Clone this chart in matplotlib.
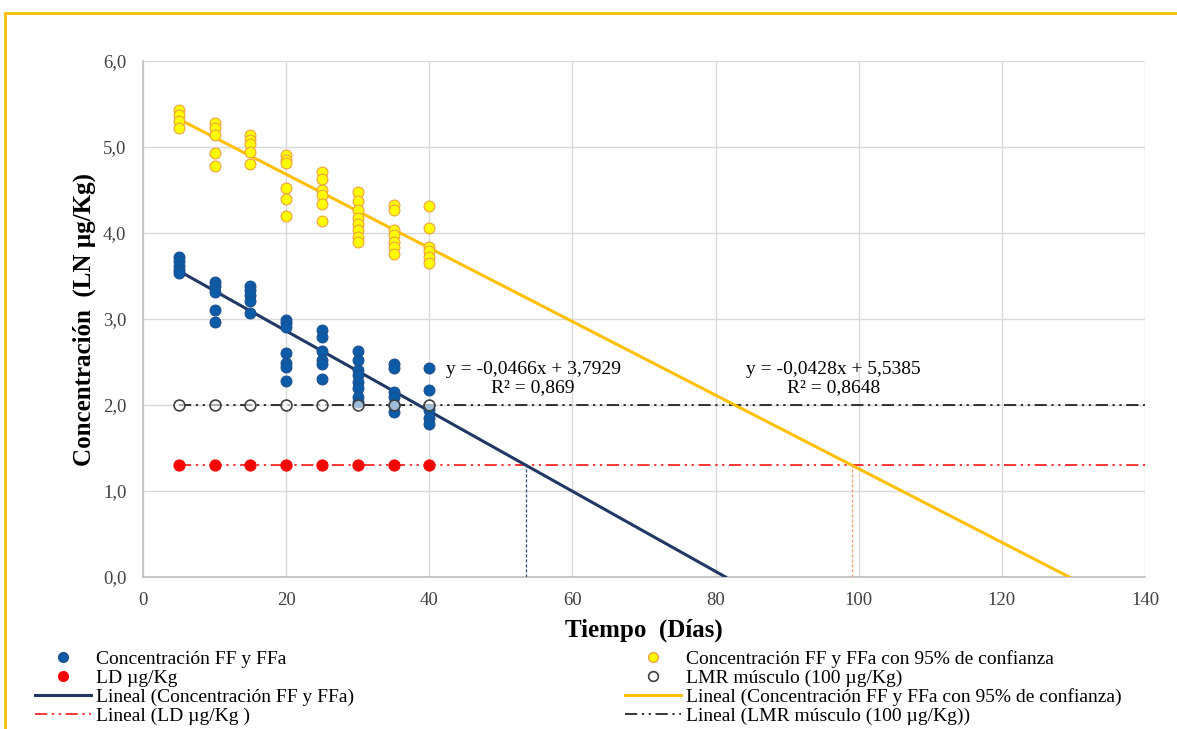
import matplotlib
matplotlib.use("Agg")
import matplotlib.pyplot as plt
import numpy as np
from matplotlib.patches import Rectangle
from matplotlib.lines import Line2D
from matplotlib.ticker import FuncFormatter, MultipleLocator

plt.rcParams['font.family'] = ['Liberation Serif', 'DejaVu Serif']

# ---- data ----
days = [5, 10, 15, 20, 25, 30, 35, 40]
conc_ff = [
    [3.72, 3.67, 3.62, 3.57, 3.53],
    [3.43, 3.38, 3.31, 3.10, 2.96],
    [3.38, 3.34, 3.28, 3.21, 3.07],
    [2.99, 2.95, 2.91, 2.60, 2.49, 2.44, 2.28],
    [2.87, 2.79, 2.63, 2.52, 2.48, 2.30],
    [2.63, 2.52, 2.41, 2.35, 2.27, 2.20, 2.09, 2.04],
    [2.48, 2.43, 2.15, 2.09, 2.00, 1.92],
    [2.43, 2.18, 1.94, 1.85, 1.78],
]
conc_95 = [
    [5.43, 5.37, 5.30, 5.22],
    [5.28, 5.22, 5.14, 4.93, 4.78],
    [5.14, 5.08, 5.04, 4.94, 4.80],
    [4.91, 4.85, 4.81, 4.52, 4.40, 4.20],
    [4.71, 4.63, 4.50, 4.44, 4.34, 4.14],
    [4.48, 4.37, 4.27, 4.17, 4.11, 4.03, 3.95, 3.89],
    [4.33, 4.27, 4.03, 3.98, 3.90, 3.84, 3.76],
    [4.31, 4.06, 3.84, 3.79, 3.72, 3.65],
]
ld_value = 1.3     # LD (LN ug/Kg)
lmr_value = 2.0    # LMR musculo (LN ug/Kg)
fit_ff = (-0.0466, 3.7929, 0.869)
fit_95 = (-0.0428, 5.5385, 0.8648)
x_max = 140

# ---- figure ----
fig = plt.figure(figsize=(11.77, 7.29), dpi=100)
ax = fig.add_axes([143/1177, 1-577/729, (1145-143)/1177, (577-61)/729])

blue_fill, blue_edge = '#0b5ca8', '#1c4f8f'
yel_fill, yel_edge = '#ffff00', '#f0a040'
navy = '#1f3864'
gold = '#ffc000'

ms = 7.8
for d, vals in zip(days, conc_ff):
    ax.plot([d]*len(vals), vals, 'o', ms=ms, mfc=blue_fill, mec=blue_edge, mew=0.8, zorder=4, ls='none')
for d, vals in zip(days, conc_95):
    ax.plot([d]*len(vals), vals, 'o', ms=ms, mfc=yel_fill, mec=yel_edge, mew=0.8, zorder=4, ls='none')

# LD and LMR points
ax.plot(days, [ld_value]*len(days), 'o', ms=ms, mfc='#ff0000', mec='#ff0000', zorder=5, ls='none')
ax.plot(days, [lmr_value]*len(days), 'o', ms=ms, mfc=(1, 1, 1, 0.6), mec='#404040', mew=1.2, zorder=5, ls='none')

# Horizontal trend lines
ddash = (8, 3, 1.5, 3, 1.5, 3)
ax.plot([days[0], x_max], [ld_value, ld_value], color='#ff0000', lw=1.1, dashes=ddash, zorder=3)
ax.plot([days[0], x_max], [lmr_value, lmr_value], color='#000000', lw=1.1, dashes=ddash, zorder=3)

# Linear trend lines (forecast forward to y=0)
m1, b1, r1 = fit_ff
m2, b2, r2 = fit_95
x1 = np.array([days[0], -b1/m1])
x2 = np.array([days[0], -b2/m2])
ax.plot(x1, m1*x1 + b1, color=navy, lw=2.2, zorder=3)
ax.plot(x2, m2*x2 + b2, color=gold, lw=2.2, zorder=3)

# Vertical drop lines at LD intersection
xi1 = (b1 - ld_value) / -m1
xi2 = (b2 - ld_value) / -m2
ax.plot([xi1, xi1], [0, ld_value], color='#2f4a7a', lw=0.9, ls=(0, (2.5, 1.5)), zorder=3)
ax.plot([xi2, xi2], [0, ld_value], color='#f4a070', lw=0.9, ls=(0, (2.5, 1.5)), zorder=3)

def fmt(v, nd):
    return f"{v:.{nd}f}".replace('.', ',')

ax.text(54.5, 2.31, f"y = {fmt(m1,4)}x + {fmt(b1,4)}\nR² = {fmt(r1,3)}",
        ha='center', va='center', fontsize=14, linespacing=1.1, zorder=6)
ax.text(96.5, 2.31, f"y = {fmt(m2,4)}x + {fmt(b2,4)}\nR² = {fmt(r2,4)}",
        ha='center', va='center', fontsize=14, linespacing=1.1, zorder=6)

ax.set_xlim(0, 140)
ax.set_ylim(0, 6)
ax.xaxis.set_major_locator(MultipleLocator(20))
ax.yaxis.set_major_locator(MultipleLocator(1))
ax.yaxis.set_major_formatter(FuncFormatter(lambda v, p: fmt(v, 1)))
ax.grid(True, color='#d9d9d9', lw=1.0, zorder=0)
ax.set_axisbelow(True)
for s in ['top', 'right']:
    ax.spines[s].set_visible(False)
for s in ['left', 'bottom']:
    ax.spines[s].set_color('#bfbfbf')
    ax.spines[s].set_linewidth(1.2)
ax.tick_params(axis='both', length=0, labelsize=13.5, colors='#404040')
ax.tick_params(axis='y', pad=12)
ax.tick_params(axis='x', pad=11)
ax.set_xlabel('Tiempo  (Días)', fontsize=18, fontweight='bold', labelpad=7)
ax.set_ylabel('Concentración  (LN µg/Kg)', fontsize=18, fontweight='bold', labelpad=5)

# Legends
hl = [
    Line2D([], [], ls='none', marker='o', ms=7, mfc=blue_fill, mec=blue_edge),
    Line2D([], [], ls='none', marker='o', ms=7, mfc='#ff0000', mec='#ff0000'),
    Line2D([], [], color=navy, lw=2.2),
    Line2D([], [], color='#ff0000', lw=1.1, dashes=ddash),
]
ll = ['Concentración FF y FFa', 'LD µg/Kg', 'Lineal (Concentración FF y FFa)', 'Lineal (LD µg/Kg )']
hr = [
    Line2D([], [], ls='none', marker='o', ms=7, mfc=yel_fill, mec=yel_edge),
    Line2D([], [], ls='none', marker='o', ms=7, mfc='white', mec='#404040', mew=1.2),
    Line2D([], [], color=gold, lw=2.2),
    Line2D([], [], color='#000000', lw=1.1, dashes=ddash),
]
lr = ['Concentración FF y FFa con 95% de confianza', 'LMR músculo (100 µg/Kg)',
      'Lineal (Concentración FF y FFa con 95% de confianza)', 'Lineal (LMR músculo (100 µg/Kg))']
common = dict(frameon=False, fontsize=14, handlelength=2.9, handletextpad=0.25,
              labelspacing=0.07, borderpad=0, borderaxespad=0, loc='upper left')
fig.legend(hl, ll, bbox_to_anchor=(35/1177, 1-650/729), **common)
fig.legend(hr, lr, bbox_to_anchor=(625/1177, 1-650/729), **common)

# Orange outer frame
fig.add_artist(Rectangle((5/1177, -0.1), 1.2, 1-13/729+0.1, transform=fig.transFigure,
                         fill=False, ec='#ffc000', lw=2.0, clip_on=False))

fig.savefig('out.png', dpi=100)
